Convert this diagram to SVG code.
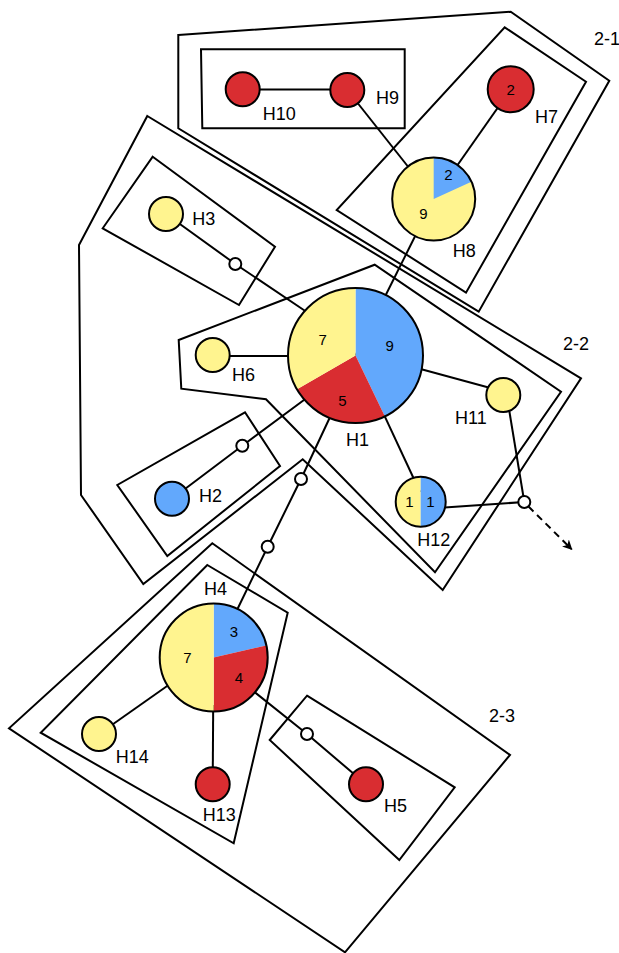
<svg xmlns="http://www.w3.org/2000/svg" width="619" height="953" viewBox="0 0 619 953">
  <style>
    .grp { fill: none; stroke: #000; stroke-width: 2; stroke-linejoin: miter; }
    .edge { fill: none; stroke: #000; stroke-width: 2; }
    .dash { fill: none; stroke: #000; stroke-width: 2; stroke-dasharray: 7 5; }
    .rim { fill: none; stroke: #000; stroke-width: 2; }
    .y { fill: #FFF48F; }
    .b { fill: #62A8FC; }
    .r { fill: #D92D31; }
    .mv { fill: #fff; stroke: #000; stroke-width: 2; }
    .lbl { font-family: "Liberation Sans", Arial, Helvetica, sans-serif; font-size: 18px; fill: #000; }
    .num { font-family: "Liberation Sans", Arial, Helvetica, sans-serif; font-size: 15px; fill: #000; text-anchor: middle; dominant-baseline: central; }
  </style>
  <defs>
    <marker id="arrow" viewBox="0 0 10 10" refX="9" refY="5" markerWidth="10" markerHeight="10" markerUnits="userSpaceOnUse" orient="auto">
      <path d="M0,0 L10,5 L0,10 L3,5 Z" fill="#000"/>
    </marker>
  </defs>

  <!-- cluster outlines -->
  <g id="clusters">
    <polygon id="c2-1" class="grp" points="178.3,35 510.7,11.7 609.3,80.7 478.7,311.7 178.3,128.3"/>
    <polygon id="c-h9-h10" class="grp" points="201,49.3 404.7,49.3 404.7,128.3 202.3,128.3"/>
    <polygon id="c-h7-h8" class="grp" points="504.7,27.3 586,81.7 466,292.7 336.7,210"/>
    <polygon id="c2-2" class="grp" points="147.3,116 581,378.3 442.7,590 302.7,459.3 143.3,584 81,495 79,245"/>
    <polygon id="c-h1" class="grp" points="178.7,340 374.7,264.7 561,391.7 435,572.3 266,399.3 181.3,388.7"/>
    <polygon id="c-h3" class="grp" points="152.7,156.7 275,246.7 239,305 102.7,228.3"/>
    <polygon id="c-h2" class="grp" points="245,412.3 280,466 167.3,556 117.3,485"/>
    <polygon id="c2-3" class="grp" points="212.3,543.3 510,755 345,952.3 9,728.3"/>
    <polygon id="c-h4" class="grp" points="207.3,565 287.7,612.7 233.7,843.3 40.7,732.7"/>
    <polygon id="c-h5" class="grp" points="307,695.7 454.7,787.3 399.3,860 269.7,740"/>
    <text class="lbl" x="594" y="45">2-1</text>
    <text class="lbl" x="563" y="350">2-2</text>
    <text class="lbl" x="489" y="722">2-3</text>
  </g>

  <!-- connectors -->
  <g id="connectors">
    <line class="edge" x1="242.7" y1="89.5" x2="347.3" y2="89.5"/>
    <line class="edge" x1="347.3" y1="90" x2="433.7" y2="199"/>
    <line class="edge" x1="510.7" y1="89.3" x2="433.7" y2="199"/>
    <line class="edge" x1="433.7" y1="199" x2="355.5" y2="355.5"/>
    <polyline class="edge" points="166,214 235.3,264 306,311.5"/>
    <line class="edge" x1="212.7" y1="356" x2="300" y2="356"/>
    <line class="edge" x1="415" y1="367.5" x2="503.3" y2="391.5"/>
    <line class="edge" x1="384.3" y1="415.3" x2="420" y2="492"/>
    <line class="edge" x1="430" y1="508.5" x2="524.3" y2="502"/>
    <line class="edge" x1="507.5" y1="400" x2="524.3" y2="502"/>
    <line class="dash" x1="528.5" y1="506.5" x2="571.7" y2="549.3" marker-end="url(#arrow)"/>
    <polyline class="edge" points="308,397 242.3,445.7 172,498.7"/>
    <polyline class="edge" points="331,415 301,479 267.7,546.7 237,610"/>
    <line class="edge" x1="170" y1="684" x2="99" y2="734"/>
    <line class="edge" x1="213.2" y1="705" x2="212.7" y2="784.3"/>
    <polyline class="edge" points="252,690 307,734 366,784.3"/>
  </g>

  <!-- haplotype nodes -->
  <g id="H10">
    <circle class="r" cx="242.7" cy="89.3" r="17"/>
    <circle class="rim" cx="242.7" cy="89.3" r="17"/>
    <text class="lbl" x="262.7" y="120">H10</text>
  </g>
  <g id="H9">
    <circle class="r" cx="347.3" cy="90" r="17"/>
    <circle class="rim" cx="347.3" cy="90" r="17"/>
    <text class="lbl" x="376" y="104">H9</text>
  </g>
  <g id="H7">
    <circle class="r" cx="510.7" cy="89.3" r="23"/>
    <circle class="rim" cx="510.7" cy="89.3" r="23"/>
    <text class="num" x="510.7" y="89.3">2</text>
    <text class="lbl" x="535" y="123.3">H7</text>
  </g>
  <g id="H8">
    <circle class="y" cx="433.7" cy="199" r="41.5"/>
    <path class="b" d="M433.7,199 L433.7,157.5 A41.5,41.5 0 0 1 471.45,181.76 Z"/>
    <circle class="rim" cx="433.7" cy="199" r="41.5"/>
    <text class="num" x="448.3" y="174">2</text>
    <text class="num" x="423.3" y="213.3">9</text>
    <text class="lbl" x="452.7" y="257.3">H8</text>
  </g>
  <g id="H3">
    <circle class="y" cx="166" cy="214" r="17"/>
    <circle class="rim" cx="166" cy="214" r="17"/>
    <text class="lbl" x="192.3" y="225">H3</text>
  </g>
  <g id="H6">
    <circle class="y" cx="212.7" cy="355" r="17"/>
    <circle class="rim" cx="212.7" cy="355" r="17"/>
    <text class="lbl" x="232" y="381">H6</text>
  </g>
  <g id="H1">
    <path class="b" d="M355.5,355.5 L355.5,288 A67.5,67.5 0 0 1 384.79,416.32 Z"/>
    <path class="r" d="M355.5,355.5 L384.79,416.32 A67.5,67.5 0 0 1 297.04,389.25 Z"/>
    <path class="y" d="M355.5,355.5 L297.04,389.25 A67.5,67.5 0 0 1 355.5,288 Z"/>
    <circle class="rim" cx="355.5" cy="355.5" r="67.5"/>
    <text class="num" x="389.7" y="345">9</text>
    <text class="num" x="322.7" y="339.3">7</text>
    <text class="num" x="342.3" y="400">5</text>
    <text class="lbl" x="346" y="445.7">H1</text>
  </g>
  <g id="H11">
    <circle class="y" cx="503.3" cy="395" r="17"/>
    <circle class="rim" cx="503.3" cy="395" r="17"/>
    <text class="lbl" x="455" y="424">H11</text>
  </g>
  <g id="H12">
    <path class="y" d="M420.7,476.7 A25,25 0 0 0 420.7,526.7 Z"/>
    <path class="b" d="M420.7,476.7 A25,25 0 0 1 420.7,526.7 Z"/>
    <circle class="rim" cx="420.7" cy="501.7" r="25"/>
    <text class="num" x="409.3" y="501.7">1</text>
    <text class="num" x="430.3" y="501.7">1</text>
    <text class="lbl" x="417.3" y="546">H12</text>
  </g>
  <g id="H2">
    <circle class="b" cx="172" cy="498.7" r="17"/>
    <circle class="rim" cx="172" cy="498.7" r="17"/>
    <text class="lbl" x="199" y="502.3">H2</text>
  </g>
  <g id="H4">
    <path class="b" d="M213.7,657.5 L213.7,603.5 A54,54 0 0 1 266.35,645.48 Z"/>
    <path class="r" d="M213.7,657.5 L266.35,645.48 A54,54 0 0 1 213.7,711.5 Z"/>
    <path class="y" d="M213.7,657.5 L213.7,711.5 A54,54 0 0 1 213.7,603.5 Z"/>
    <circle class="rim" cx="213.7" cy="657.5" r="54"/>
    <text class="num" x="234" y="631.7">3</text>
    <text class="num" x="187.3" y="657.3">7</text>
    <text class="num" x="239" y="677.3">4</text>
    <text class="lbl" x="204" y="595">H4</text>
  </g>
  <g id="H14">
    <circle class="y" cx="99" cy="734" r="17"/>
    <circle class="rim" cx="99" cy="734" r="17"/>
    <text class="lbl" x="115.7" y="763.3">H14</text>
  </g>
  <g id="H13">
    <circle class="r" cx="212.7" cy="784.3" r="17"/>
    <circle class="rim" cx="212.7" cy="784.3" r="17"/>
    <text class="lbl" x="202.7" y="820.7">H13</text>
  </g>
  <g id="H5">
    <circle class="r" cx="366" cy="784.3" r="17"/>
    <circle class="rim" cx="366" cy="784.3" r="17"/>
    <text class="lbl" x="384" y="811.7">H5</text>
  </g>

  <!-- median vectors -->
  <g id="mv1"><circle class="mv" cx="235.3" cy="264" r="6"/></g>
  <g id="mv2"><circle class="mv" cx="242.3" cy="445.7" r="6"/></g>
  <g id="mv3"><circle class="mv" cx="301" cy="479" r="6"/></g>
  <g id="mv4"><circle class="mv" cx="267.7" cy="546.7" r="6"/></g>
  <g id="mv5"><circle class="mv" cx="307" cy="734" r="6"/></g>
  <g id="mv6"><circle class="mv" cx="524.3" cy="502" r="6"/></g>
</svg>
